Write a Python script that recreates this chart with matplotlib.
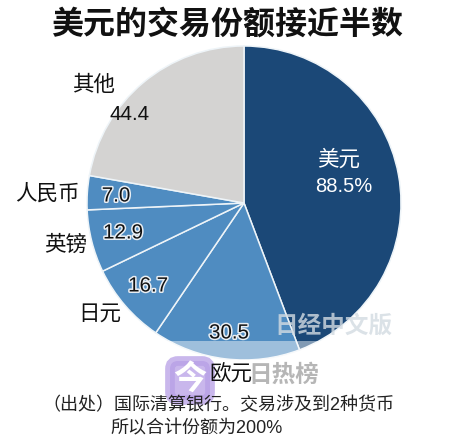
import matplotlib
matplotlib.use("Agg")
from matplotlib import pyplot as plt
from matplotlib.patches import FancyBboxPatch, Rectangle
import matplotlib.patheffects as pe

plt.rcParams['font.family'] = ['Liberation Sans', 'Noto Sans CJK SC', 'DejaVu Sans']

# data, clockwise from 12 o'clock
names = ["美元", "欧元", "日元", "英镑", "人民币", "其他"]
values = [88.5, 30.5, 16.7, 12.9, 7.0, 44.4]
value_labels = ["88.5%", "30.5", "16.7", "12.9", "7.0", "44.4"]
colors = ["#1b4877", "#4f8cc1", "#4f8cc1", "#4f8cc1", "#4f8cc1", "#d4d3d2"]

W, H = 450, 441
fig = plt.figure(figsize=(W / 100, H / 100), dpi=100)
ax = fig.add_axes([0, 0, 1, 1])

ax.pie(values, colors=colors, startangle=90, counterclock=False,
       center=(244, H - 203), radius=157,
       wedgeprops={"edgecolor": "#eef4f8", "linewidth": 1.1})
ax.set_xlim(0, W)
ax.set_ylim(0, H)
ax.set_aspect("equal")
ax.axis("off")

# the lighter strip along the bottom of the pie
ax.add_patch(Rectangle((0, 0), W, H - 341, color="white", alpha=0.45, lw=0, zorder=3))
ax.add_patch(Rectangle((0, 0), W, H - 360, color="white", lw=0, zorder=3))

# pixel positions from the top left of the picture
def put(x, y, s, size, **kw):
    return ax.text(x, H - y, s, fontsize=size, ha=kw.pop("ha", "center"),
                   va="center", zorder=kw.pop("zorder", 6), **kw)

put(227, 25, "美元的交易份额接近半数", 23, fontweight="bold", color="#111111")

halo = [pe.withStroke(linewidth=2.2, foreground="#e9eef3")]
put(339, 160, names[0], 15.5, color="white")
put(344, 186, value_labels[0], 14.5, color="white")
put(229, 333, value_labels[1], 14.8, color="#111111", path_effects=halo)
put(148, 286, value_labels[2], 14.8, color="#111111", path_effects=halo)
put(123, 233, value_labels[3], 14.8, color="#111111", path_effects=halo)
put(116, 196, value_labels[4], 14.8, color="#111111", path_effects=halo)
put(130, 115, value_labels[5], 14.8, color="#111111")

put(231, 375, names[1], 15.5, color="#111111")
put(100, 314, names[2], 15.5, color="#111111")
put(66, 245, names[3], 15.5, color="#111111")
put(47, 194, names[4], 15.5, color="#111111")
put(94, 85, names[5], 15.5, color="#111111")

put(42, 405, "（出处）国际清算银行。交易涉及到2种货币", 13, ha="left", color="#222222")
put(110, 429, "所以合计份额为200%", 13, ha="left", color="#222222")

# watermarks
put(333, 326, "日经中文版", 17, color="#d3dbe2", alpha=0.8, fontweight="bold")
ax.add_patch(FancyBboxPatch((170, H - 400), 40, 39, boxstyle="round,pad=0,rounding_size=8",
                            mutation_aspect=1, fc="#b79fe6", ec="#b79fe6", lw=7,
                            alpha=0.75, zorder=5))
put(190, 380, "今", 24, color="white", fontweight="bold", zorder=7)
put(284, 375, "日热榜", 17, color="#a9a9a9", fontweight="bold", alpha=0.85, zorder=7)

fig.savefig("out.png", dpi=100, facecolor="white")
